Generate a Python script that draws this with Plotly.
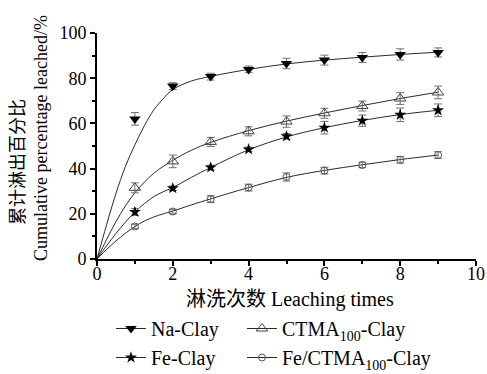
import plotly.graph_objects as go

# Measured points (leaching times 1..9)
times = [1, 2, 3, 4, 5, 6, 7, 8, 9]
na_clay = [62.0, 76.5, 80.7, 83.9, 86.5, 88.0, 89.2, 90.5, 91.4]
na_err = [2.8, 1.5, 1.5, 1.5, 2.3, 2.2, 2.2, 2.5, 2.0]
ctma_clay = [31.5, 43.2, 51.8, 56.5, 60.8, 64.5, 67.7, 71.0, 73.7]
ctma_err = [2.2, 2.8, 2.0, 2.0, 2.5, 2.2, 2.2, 2.6, 2.8]
fe_clay = [20.8, 31.3, 40.5, 48.5, 54.3, 58.1, 61.2, 63.8, 65.8]
fe_err = [1.5, 1.0, 1.0, 1.0, 1.2, 2.8, 2.5, 3.0, 2.8]
fectma_clay = [14.4, 21.0, 26.5, 31.6, 36.3, 39.1, 41.6, 43.9, 46.0]
fectma_err = [1.0, 1.0, 1.5, 1.5, 1.8, 1.5, 1.2, 1.5, 1.5]

# Fitted curves
curve_x = [0, 0.25, 0.5, 0.75, 1, 1.25, 1.5, 1.75, 2, 2.5, 3, 4, 5, 6, 7, 8, 9]
na_curve = [0, 15, 29, 41, 50.5, 59, 66, 71, 75, 78.8, 80.8, 83.9, 86.3, 88.0, 89.3, 90.5, 91.5]
ctma_curve = [0, 8.5, 16.5, 23.5, 29.3, 34, 38, 41, 43.7, 48.2, 51.6, 56.8, 61.0, 64.6, 67.9, 71.0, 73.8]
fe_curve = [0, 5.8, 11.3, 16.3, 20.8, 24.5, 27.6, 29.8, 31.6, 36.2, 40.5, 48.3, 54.0, 58.1, 61.3, 63.9, 65.8]
fectma_curve = [0, 4.2, 8.0, 11.4, 14.4, 16.8, 18.6, 20.0, 21.2, 24.0, 26.6, 31.6, 36.1, 39.2, 41.7, 44.0, 46.0]

names = ["Na-Clay", "CTMA<sub>100</sub>-Clay", "Fe-Clay", "Fe/CTMA<sub>100</sub>-Clay"]

FONT = "Liberation Serif"
CJK = "Liberation Serif, Noto Sans CJK SC"
LINE_C = "#2a2a2a"
ERR_C = "#707070"

series = [
    (names[0], na_clay, na_err, na_curve, dict(symbol="triangle-down", size=10, color="black", line=dict(width=0)), "legend"),
    (names[2], fe_clay, fe_err, fe_curve, dict(symbol="star", size=9, color="black", line=dict(width=0)), "legend"),
    (names[1], ctma_clay, ctma_err, ctma_curve, dict(symbol="triangle-up-open", size=10, color="#444444", line=dict(width=1)), "legend2"),
    (names[3], fectma_clay, fectma_err, fectma_curve, dict(symbol="circle-open", size=7, color="#555555", line=dict(width=1)), "legend2"),
]

fig = go.Figure()
for name, ys, err, cy, mk, lg in series:
    fig.add_trace(go.Scatter(x=curve_x, y=cy, mode="lines", line=dict(color=LINE_C, width=1, shape="spline"),
                             showlegend=False, hoverinfo="skip"))
    fig.add_trace(go.Scatter(x=times, y=ys, mode="markers", marker=mk,
                             error_y=dict(type="data", array=err, color=ERR_C, thickness=1, width=4),
                             showlegend=False))
    fig.add_trace(go.Scatter(x=[None], y=[None], mode="lines+markers", name=name, marker=mk,
                             line=dict(color=LINE_C, width=1), legend=lg))

L, R, T, B = 97, 11, 33, 115
PW = 487 - L - R
PH = 374 - T - B

def px(xp):
    return (xp - L) / PW

def py(yp):
    return (374 - B - yp) / PH

axis_common = dict(showline=True, linewidth=2, linecolor="black", ticks="outside", ticklen=5,
                   tickwidth=1.5, tickcolor="black", showgrid=False, zeroline=False,
                   tickfont=dict(family=FONT, size=18, color="black"))

fig.update_xaxes(range=[0, 10], dtick=2, ticklabelstandoff=-8,
                 minor=dict(dtick=1, ticks="outside", ticklen=3, tickcolor="black"),
                 **axis_common)
fig.update_yaxes(range=[0, 100], dtick=20, minor=dict(dtick=10, ticks="outside", ticklen=3, tickcolor="black"),
                 **axis_common)

legend_common = dict(orientation="v", font=dict(family=FONT, size=20, color="black"), bgcolor="rgba(0,0,0,0)",
                     xanchor="left", yanchor="top", itemwidth=30, tracegroupgap=0)
fig.update_layout(
    width=487, height=374,
    margin=dict(l=L, r=R, t=T, b=B, autoexpand=False),
    paper_bgcolor="white", plot_bgcolor="white",
    font=dict(family=FONT, color="black"),
    legend=dict(x=px(111), y=py(309), **legend_common),
    legend2=dict(x=px(242), y=py(309), **legend_common),
    annotations=[
        dict(text="淋洗次数 Leaching times", x=px(290), y=py(299), xref="paper", yref="paper",
             xanchor="center", yanchor="middle",
             showarrow=False, font=dict(family=CJK, size=20, color="black")),
        dict(text="累计淋出百分比", x=px(18), y=py(162), xref="paper", yref="paper", textangle=-90,
             xanchor="center", yanchor="middle",
             showarrow=False, font=dict(family=CJK, size=18, color="black")),
        dict(text="Cumulative percentage leached/%", x=px(41), y=py(138), xref="paper", yref="paper",
             xanchor="center", yanchor="middle",
             textangle=-90, showarrow=False, font=dict(family=FONT, size=18, color="black")),
    ],
)

fig.write_html("out.html")
